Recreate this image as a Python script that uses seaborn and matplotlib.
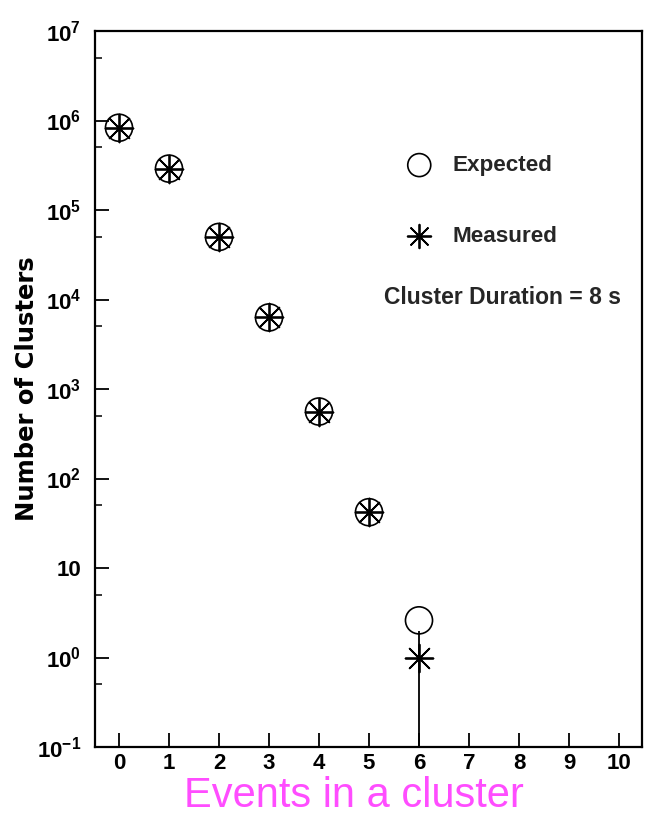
import matplotlib
matplotlib.use("Agg")
import matplotlib.pyplot as plt
import seaborn as sns
import pandas as pd
from matplotlib.ticker import FixedLocator, FixedFormatter, NullFormatter

# Cluster multiplicity counts
events = [0, 1, 2, 3, 4, 5, 6]
expected = [8.3e5, 2.9e5, 5.0e4, 6.3e3, 5.6e2, 42, 2.6]
measured = [8.3e5, 2.9e5, 5.0e4, 6.3e3, 5.6e2, 42, 1.0]
measured_err = [0, 0, 0, 0, 0, 0, 1.0]

xticks = list(range(0, 11))
yticks = [1e-1, 1e0, 1e1, 1e2, 1e3, 1e4, 1e5, 1e6, 1e7]
ytick_labels = [r"$10^{-1}$", r"$10^{0}$", "10", r"$10^{2}$", r"$10^{3}$",
                r"$10^{4}$", r"$10^{5}$", r"$10^{6}$", r"$10^{7}$"]
yminor = [5e-1, 5e0, 5e1, 5e2, 5e3, 5e4, 5e5, 5e6]

sns.set_theme(style="white")
SANS = ["Liberation Sans", "DejaVu Sans"]
plt.rcParams["font.family"] = SANS
plt.rcParams["mathtext.fontset"] = "custom"
plt.rcParams["mathtext.rm"] = "Liberation Sans:bold"
plt.rcParams["mathtext.bf"] = "Liberation Sans:bold"
plt.rcParams["mathtext.default"] = "bf"

fig = plt.figure(figsize=(6.48, 8.16), dpi=100)
ax = fig.add_axes([95 / 648, 1 - 747 / 816, 547 / 648, 716 / 816])
ax.set_yscale("log")

df_exp = pd.DataFrame({"events": events, "count": expected})
df_mea = pd.DataFrame({"events": events, "count": measured})

ax.errorbar(events, measured, yerr=measured_err, fmt="none",
            ecolor="black", elinewidth=1.3, capsize=0, zorder=2)
sns.scatterplot(data=df_exp, x="events", y="count", ax=ax, marker="o",
                s=380, color="black", facecolors="none", edgecolor="black",
                linewidth=1.2, label="Expected", zorder=3)
sns.scatterplot(data=df_mea, x="events", y="count", ax=ax, marker=(8, 2, 0),
                s=400, color="black", linewidth=1.3, label="Measured",
                zorder=4)

ax.set_xlim(-0.48, 10.46)
ax.set_ylim(1e-1, 1e7)

ax.xaxis.set_major_locator(FixedLocator(xticks))
ax.xaxis.set_major_formatter(FixedFormatter([str(t) for t in xticks]))
ax.xaxis.set_minor_locator(FixedLocator([]))
ax.yaxis.set_major_locator(FixedLocator(yticks))
ax.yaxis.set_major_formatter(FixedFormatter(ytick_labels))
ax.yaxis.set_minor_locator(FixedLocator(yminor))
ax.yaxis.set_minor_formatter(NullFormatter())

ax.tick_params(axis="both", which="major", direction="in", length=10,
               width=1.3, colors="black", labelsize=16, pad=10,
               bottom=True, left=True, top=False, right=False)
ax.tick_params(axis="x", which="major", pad=4)
ax.tick_params(axis="y", which="minor", direction="in", length=5,
               width=1.3, left=True, right=False)
for lab in ax.get_xticklabels() + ax.get_yticklabels():
    lab.set_fontweight("bold")

for sp in ax.spines.values():
    sp.set_visible(True)
    sp.set_color("black")
    sp.set_linewidth(1.6)

ax.set_xlabel("Events in a cluster", color="#ff4dff", fontsize=30,
              family=SANS, fontweight="normal")
ax.xaxis.label.set_va("baseline")
ax.xaxis.set_label_coords(0.474, -0.084)
ax.set_ylabel("Number of Clusters", fontsize=17.5, fontweight="bold",
              family=["DejaVu Sans"], va="center", color="black")
ax.yaxis.set_label_coords(-0.124, 0.5)

leg = ax.legend(loc="upper left", frameon=False, fontsize=16.2,
                bbox_to_anchor=(408 / 648, 1 - 155 / 816),
                bbox_transform=fig.transFigure, borderpad=0,
                borderaxespad=0, handlelength=1.0, handletextpad=1.0,
                labelspacing=2.22, markerscale=0.85)
for t in leg.get_texts():
    t.set_fontweight("bold")

ax.text(503 / 648, 1 - 298 / 816, "Cluster Duration = 8 s",
        transform=fig.transFigure, ha="center", va="center",
        fontsize=16.5, fontweight="bold")

fig.savefig("out.png", dpi=100)
